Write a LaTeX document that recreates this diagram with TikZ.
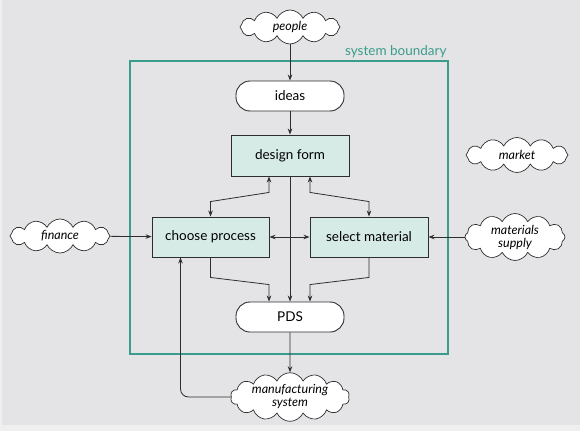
\documentclass[tikz,border=0pt]{standalone}
\usepackage{fontspec}
\setmainfont{Lato}
\usepackage{xcolor}
\usetikzlibrary{shapes.symbols,arrows.meta}
\definecolor{bggray}{HTML}{E4E4E6}
\definecolor{boxfill}{HTML}{D6EAE6}
\definecolor{edgegray}{HTML}{2E2E2E}
\definecolor{systeal}{HTML}{3A9C8C}

\begin{document}
\begin{tikzpicture}[x=1pt, y=-1pt,
  stepbox/.style={draw=edgegray, fill=boxfill, line width=0.9pt, minimum width=118pt, minimum height=40pt, font=\fontsize{13.5}{15}\selectfont},
  pill/.style={draw=edgegray, fill=white, line width=0.9pt, rounded corners=14pt, minimum width=108pt, minimum height=30pt, font=\fontsize{13.5}{15}\selectfont},
  puff/.style={cloud, cloud puffs=12, cloud puff arc=130, cloud ignores aspect, draw=edgegray, fill=white, line width=0.7pt, inner sep=0pt, align=center, font=\fontsize{12.5}{13}\selectfont\itshape},
  arr/.style={-{Stealth[length=6pt,width=4.5pt]}, line width=0.8pt, draw=edgegray},
  dblarr/.style={{Stealth[length=6pt,width=4.5pt]}-{Stealth[length=6pt,width=4.5pt]}, line width=0.8pt, draw=edgegray}]
  \useasboundingbox (0,0) rectangle (580,431);
  \fill[bggray!60] (0,0) rectangle (580,431);
  \fill[bggray] (2,0) rectangle (580,425);
  % system boundary
  \node[draw=systeal, line width=1.3pt, minimum width=318pt, minimum height=293pt] (boundary) at (289,207.5) {};
  \node[anchor=south east, text=systeal, inner sep=2pt, font=\fontsize{13.5}{15}\selectfont] (sysb) at (boundary.north east) {system boundary};
  % clouds outside
  \node[puff, minimum width=100pt, minimum height=34pt] (people) at (290,27) {people};
  \node[puff, minimum width=100pt, minimum height=34pt] (finance) at (60,236) {finance};
  \node[puff, minimum width=102pt, minimum height=35pt] (market) at (517,155) {market};
  \node[puff, minimum width=100pt, minimum height=47pt] (supply) at (515,237) {materials\\supply};
  \node[puff, cloud puffs=14, minimum width=119pt, minimum height=46pt] (manuf) at (290,397) {manufacturing\\system};
  % inside
  \node[pill] (ideas) at (290,96) {ideas};
  \node[stepbox, minimum height=41pt] (design) at (290,155.5) {design form};
  \node[stepbox, minimum width=117pt] (process) at (210.5,237) {choose process};
  \node[stepbox] (material) at (369,237) {select material};
  \node[pill] (pds) at (290,317) {PDS};
  % connectors
  \draw[arr] (people) -- (ideas);
  \draw[arr] (ideas) -- (design);
  \draw[arr] (design) -- (pds);
  \draw[dblarr] ([xshift=-21pt]design.south) -- ++(0,16) -- ([yshift=15pt]process.north) -- (process.north);
  \draw[dblarr] ([xshift=20pt]design.south) -- ++(0,16) -- ([yshift=15pt]material.north) -- (material.north);
  \draw[dblarr] (process) -- (material);
  \draw[arr] (finance) -- (process);
  \draw[arr] (supply) -- (material);
  \draw[arr] (process.south) -- ++(0,20) -- ([xshift=-21pt,yshift=17pt]pds.north) -- ([xshift=-21pt]pds.north);
  \draw[arr] (material.south) -- ++(0,20) -- ([xshift=20pt,yshift=17pt]pds.north) -- ([xshift=20pt]pds.north);
  \draw[arr] (pds) -- (manuf);
  \draw[arr, rounded corners=8pt] (manuf.west) -| ([xshift=-30pt]process.south);
\end{tikzpicture}
\end{document}
